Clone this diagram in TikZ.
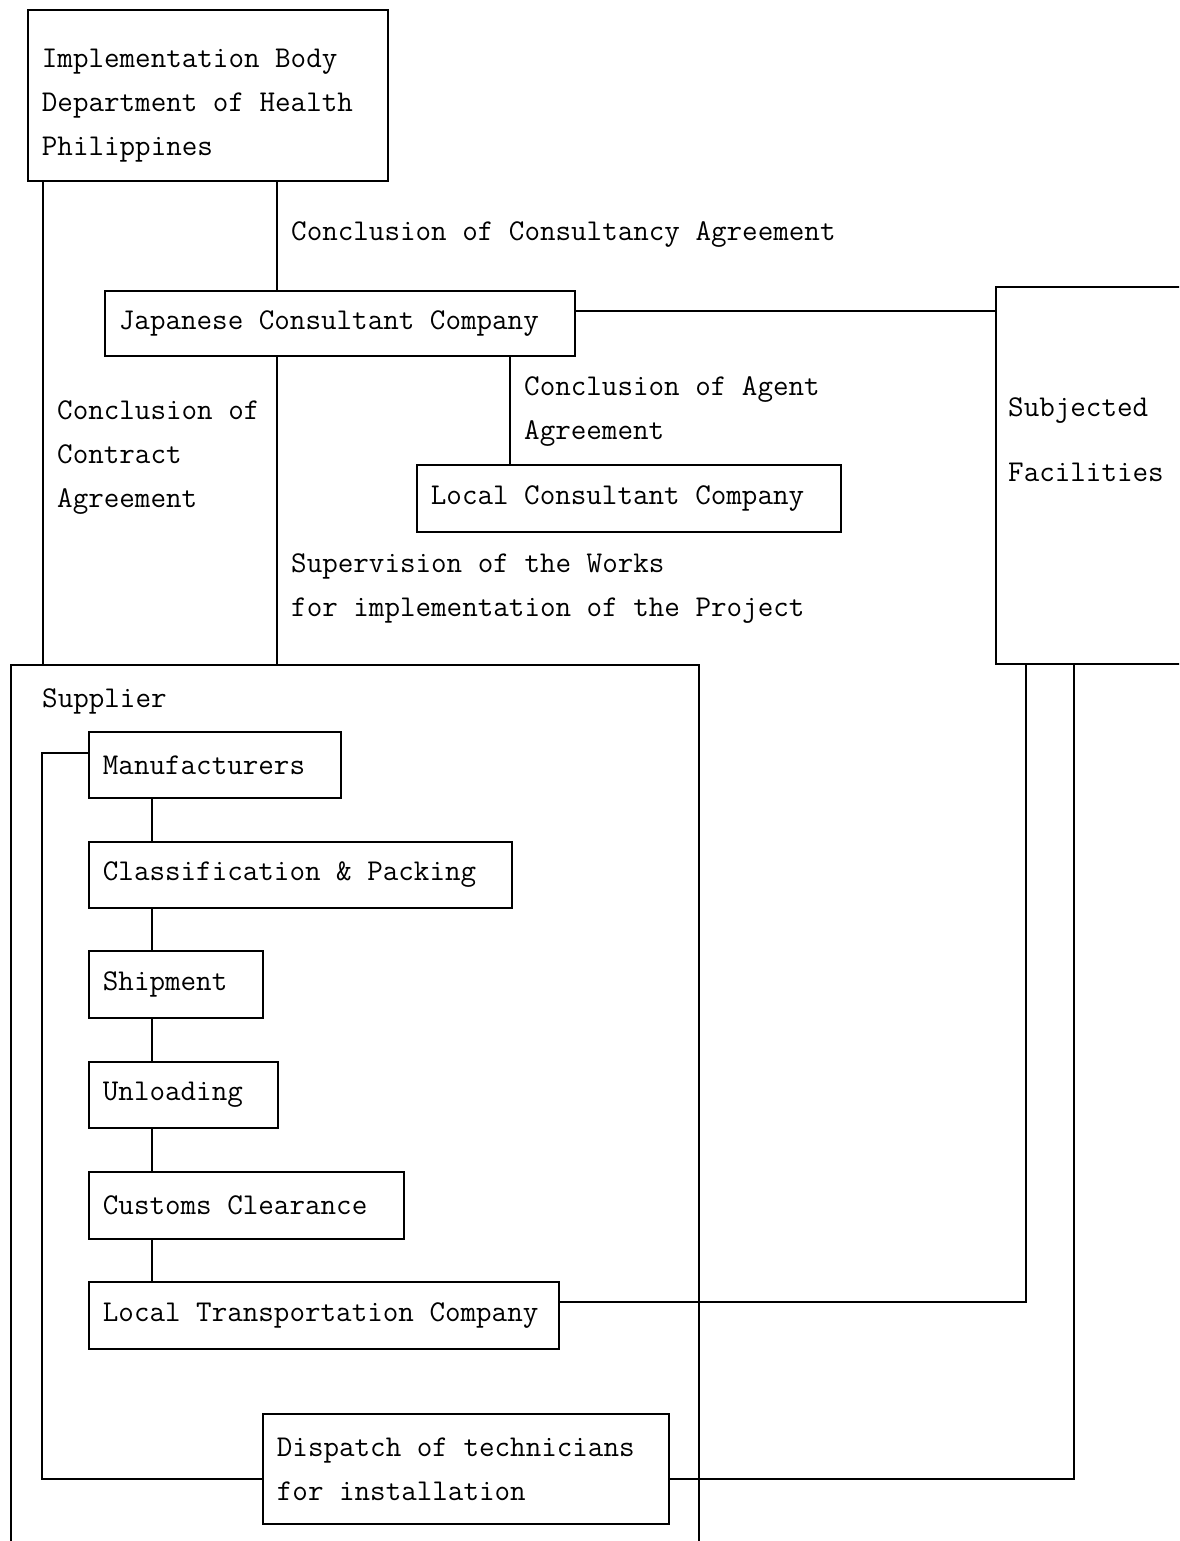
\documentclass[tikz,border=0pt]{standalone}
\usetikzlibrary{calc}
\begin{document}
\begin{tikzpicture}[x=1pt,y=-1pt,
  every node/.style={font=\fontsize{30.2}{44}\selectfont\ttfamily},
  box/.style={draw, line width=1.8pt, rectangle, anchor=north west, inner xsep=14pt, inner ysep=0pt, align=left},
  lbl/.style={anchor=west, inner sep=0pt, align=left},
  conn/.style={line width=1.8pt}]
\clip (0,0) rectangle (1179,1541);
\fill[white] (0,0) rectangle (1179,1541);

% boxes
\node[box, minimum height=171pt] (impl) at (27,9)
  {\makebox[332pt][l]{\rule{0pt}{39pt}Implementation Body}\\Department of Health\\Philippines};
\node[box, minimum height=65pt] (jcc) at (104,290) {\makebox[442pt][l]{Japanese Consultant Company}};
\node[box, minimum height=67pt] (lcc) at (416,464) {\makebox[396pt][l]{Local Consultant Company}};
\node[box, minimum width=320pt, minimum height=377pt] (subj) at (995,286) {};
\node[lbl, font=\fontsize{30.2}{65}\selectfont\ttfamily] (subjt) at (1008,440) {Subjected\\Facilities};
\node[box, minimum width=688pt, minimum height=1000pt] (sup) at (10,664) {};
\node[lbl] (supt) at (42,701) {Supplier};
\node[box, minimum height=66pt] (mfr) at (88,731) {\makebox[224pt][l]{Manufacturers}};
\node[box, minimum height=66pt] (cls) at (88,841) {\makebox[395pt][l]{Classification \& Packing}};
\node[box, minimum height=67pt] (ship) at (88,950) {\makebox[146pt][l]{Shipment}};
\node[box, minimum height=66pt] (unl) at (88,1061) {\makebox[161pt][l]{Unloading}};
\node[box, minimum height=67pt] (cus) at (88,1171) {\makebox[287pt][l]{Customs Clearance}};
\node[box, minimum height=67pt] (ltc) at (88,1281) {\makebox[442pt][l]{Local Transportation Company}};
\node[box, minimum height=110pt] (disp) at (262,1413) {\makebox[378pt][l]{Dispatch of technicians}\\for installation};

% labels
\node[lbl] (l1) at (291,235) {Conclusion of Consultancy Agreement};
\node[lbl] (l2) at (57,458) {Conclusion of\\Contract\\Agreement};
\node[lbl] (l3) at (524,412) {Conclusion of Agent\\Agreement};
\node[lbl] (l4) at (291,589) {Supervision of the Works\\for implementation of the Project};

% helper coordinates
\coordinate (xa) at (43,0);
\coordinate (xb) at (277,0);
\coordinate (xc) at (510,0);
\coordinate (xd) at (152,0);
\coordinate (xe) at (1026,0);
\coordinate (xf) at (1074,0);
\coordinate (xg) at (42,0);
\coordinate (ya) at (0,311);
\coordinate (yb) at (0,753);
\coordinate (yc) at (0,1479);
\coordinate (yd) at (0,1302);

% connectors
\draw[conn] (impl.south -| xa) -- (sup.north -| xa);
\draw[conn] (impl.south -| xb) -- (jcc.north -| xb);
\draw[conn] (jcc.south -| xb) -- (sup.north -| xb);
\draw[conn] (jcc.east |- ya) -- (subj.west |- ya);
\draw[conn] (jcc.south -| xc) -- (lcc.north -| xc);
\draw[conn] (mfr.south -| xd) -- (cls.north -| xd);
\draw[conn] (cls.south -| xd) -- (ship.north -| xd);
\draw[conn] (ship.south -| xd) -- (unl.north -| xd);
\draw[conn] (unl.south -| xd) -- (cus.north -| xd);
\draw[conn] (cus.south -| xd) -- (ltc.north -| xd);
\draw[conn] (mfr.west |- yb) -- (xg |- yb) -- (xg |- yc) -- (disp.west |- yc);
\draw[conn] (ltc.east |- yd) -- (xe |- yd) -- (subj.south -| xe);
\draw[conn] (disp.east |- yc) -- (xf |- yc) -- (subj.south -| xf);
\end{tikzpicture}
\end{document}
